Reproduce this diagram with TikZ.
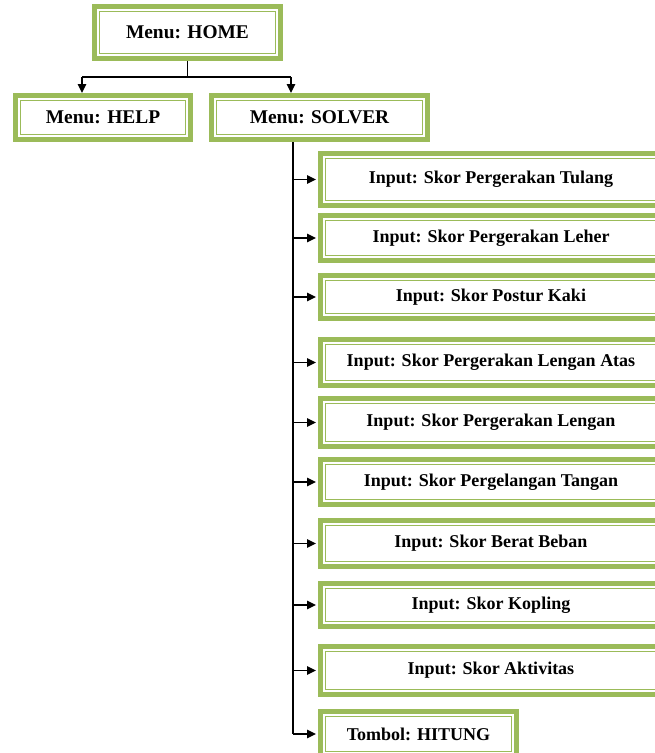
\documentclass[tikz,border=0pt]{standalone}
\usepackage{fontspec}
\setmainfont{Liberation Serif}
\usetikzlibrary{arrows.meta}
\definecolor{boxgreen}{HTML}{9BBB59}
\tikzset{
  gbox/.style={draw=boxgreen, line width=5pt, fill=white, rectangle, inner sep=0pt,
    font=\fontsize{18}{20}\selectfont\bfseries, text=black,
    path picture={\draw[boxgreen, line width=1.6pt]
      ([shift={(5pt,-5pt)}]path picture bounding box.north west) rectangle
      ([shift={(-5pt,5pt)}]path picture bounding box.south east);}},
  menubox/.style={gbox, font=\fontsize{19.4}{21}\selectfont\bfseries},
  conn/.style={draw=black, line width=1.4pt},
  arr/.style={conn, -{Triangle[length=9pt,width=8.5pt]}, shorten >=2pt}
}
\begin{document}
\begin{tikzpicture}[x=1pt,y=-1pt]
\useasboundingbox (0,0) rectangle (654,753);
% menu boxes
\node[menubox, minimum width=186pt, minimum height=52pt] (home) at (187.5,32.5) {Menu: HOME};
\node[menubox, minimum width=175pt, minimum height=44pt] (help) at (103,117.5) {Menu: HELP};
\node[menubox, minimum width=216pt, minimum height=44pt] (solver) at (319.5,117.5) {Menu: SOLVER};
% input boxes
\node[gbox, minimum width=341pt, minimum height=52pt] (b1) at (491,179.5) {Input: Skor Pergerakan Tulang};
\node[gbox, minimum width=341pt, minimum height=45pt] (b2) at (491,238) {Input: Skor Pergerakan Leher};
\node[gbox, minimum width=341pt, minimum height=43pt] (b3) at (491,297) {Input: Skor Postur Kaki};
\node[gbox, minimum width=341pt, minimum height=46pt] (b4) at (491,362.5) {Input: Skor Pergerakan Lengan Atas};
\node[gbox, minimum width=341pt, minimum height=48pt] (b5) at (491,422.5) {Input: Skor Pergerakan Lengan};
\node[gbox, minimum width=341pt, minimum height=45pt] (b6) at (491,482) {Input: Skor Pergelangan Tangan};
\node[gbox, minimum width=341pt, minimum height=46pt] (b7) at (491,543.5) {Input: Skor Berat Beban};
\node[gbox, minimum width=341pt, minimum height=43pt] (b8) at (491,605) {Input: Skor Kopling};
\node[gbox, minimum width=341pt, minimum height=48pt] (b9) at (491,670.5) {Input: Skor Aktivitas};
\node[gbox, minimum width=196pt, minimum height=45pt] (hit) at (418.5,734) {Tombol: HITUNG};
% connectors from HOME
\coordinate (j) at (home.south |- 0,77);
\coordinate (hl) at (82,77);
\coordinate (hr) at (291,77);
\draw[conn] (home.south) -- (j);
\draw[conn] (hl) -- (hr);
\draw[arr, shorten >=0pt] (hl) -- (hl |- help.north);
\draw[arr, shorten >=0pt] (hr) -- (hr |- solver.north);
% trunk
\coordinate (tx) at (293,0);
\draw[conn] (tx |- solver.south) -- (tx |- hit.west);
\foreach \b in {b1,b2,b3,b4,b5,b6,b7,b8,b9,hit}{
  \draw[arr] (tx |- \b.west) -- (\b.west);
}
\end{tikzpicture}
\end{document}
